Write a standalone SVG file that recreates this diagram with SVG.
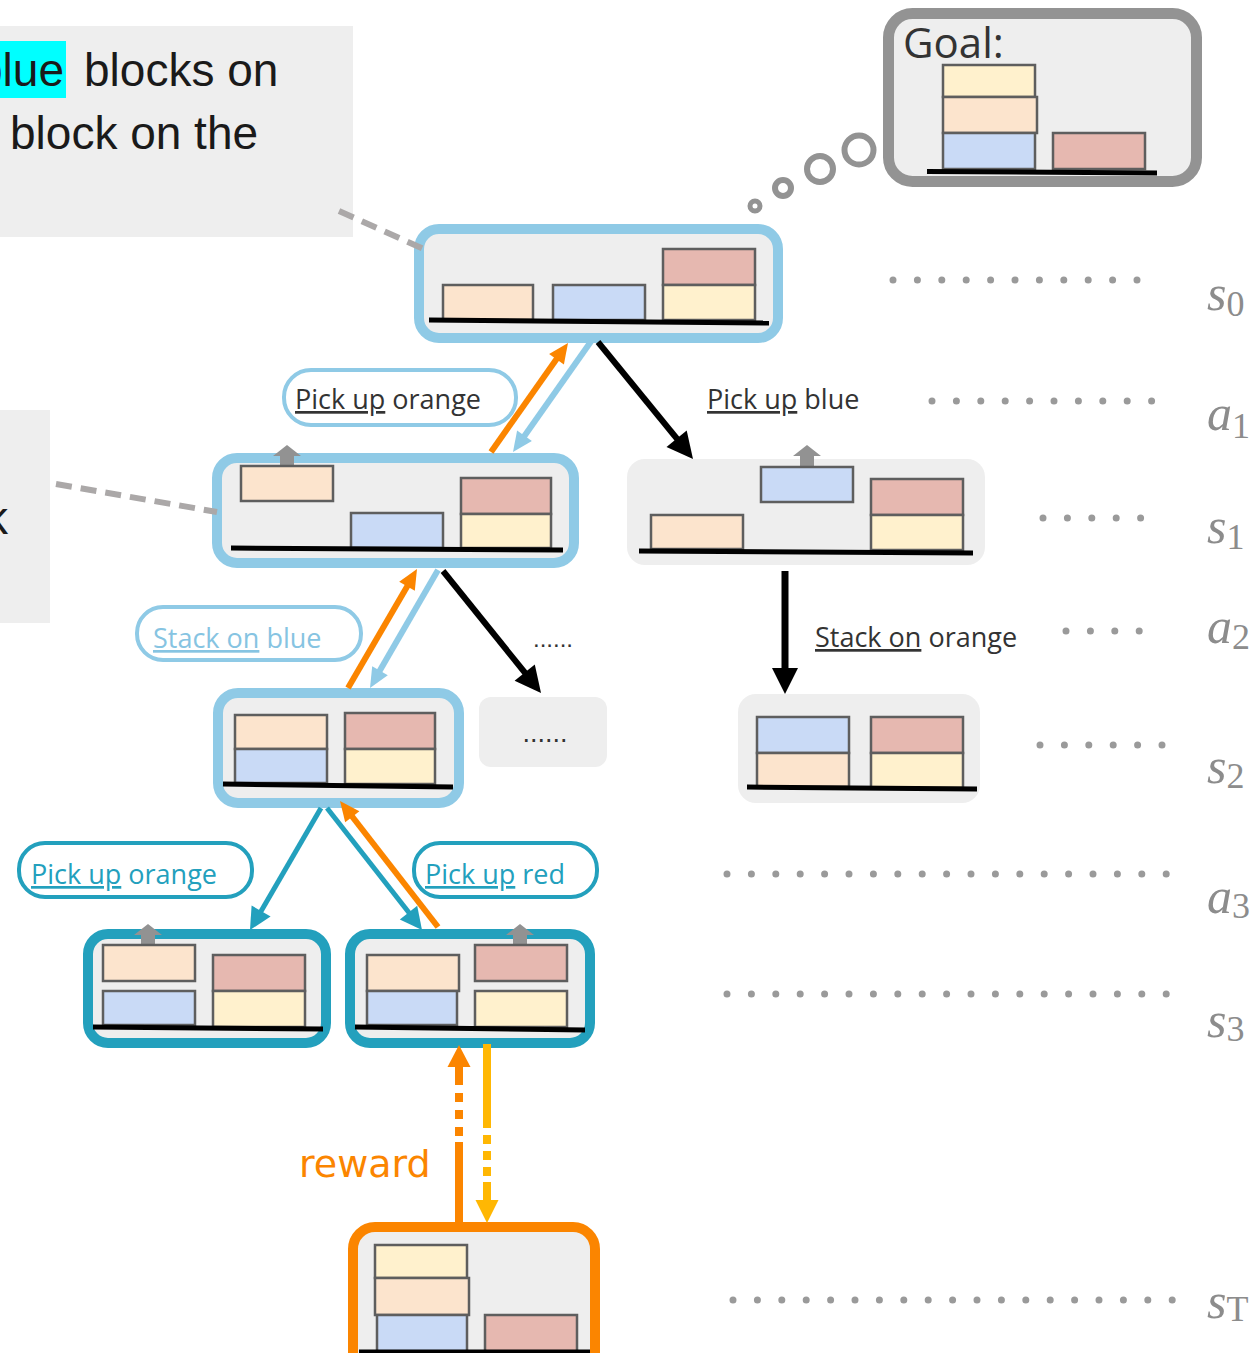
<svg xmlns="http://www.w3.org/2000/svg" width="1258" height="1353" viewBox="0 0 1258 1353">
<defs>
<style>
.nf{fill:#EEEEEE}
.lb{fill:#EEEEEE;stroke:#8FCAE6;stroke-width:10}
.tl{fill:#EEEEEE;stroke:#23A0BD;stroke-width:10}
.or{fill:#EEEEEE;stroke:#FB8500;stroke-width:10}
.bk{stroke:#5E5E5E;stroke-width:2.5}
.pe{fill:#FCE4CD}
.bl{fill:#C9DAF6}
.rd{fill:#E6B8B0}
.ye{fill:#FFF1CD}
.gr{stroke:#000;stroke-width:5}
.up{fill:#929292}
.lbl{font-family:"Open Sans",sans-serif;font-size:27px}
.dk{fill:#333333}
.lbt{fill:#86C4E2}
.tlt{fill:#23A0BD}
.ebox{fill:#FFFFFF;stroke-width:4}
.m{font-family:"Liberation Serif",serif;font-style:italic;font-size:50px;fill:#8C8C8C}
.sub{font-style:normal;font-size:36px}
.dots{stroke:#9A9A9A;stroke-width:7;stroke-linecap:round;stroke-dasharray:0 24.4;fill:none}
.big{font-family:"Liberation Sans",sans-serif;font-size:46px;fill:#1A1A1A}
.dash{stroke:#ABA8A8;stroke-width:6;stroke-dasharray:16 9;fill:none}
.bub{fill:none;stroke:#939393}
</style>
<path id="uparrow" d="M0,0 L14,11 L7,11 L7,22 L-7,22 L-7,11 L-14,11 Z"/>
</defs>
<rect width="1258" height="1353" fill="#FFFFFF"/>

<g id="instruction">
<rect x="0" y="26" width="353" height="211" class="nf"/>
<rect x="0" y="41" width="66" height="57" fill="#00FFFF"/>
<text x="64" y="86" class="big" text-anchor="end">blue</text>
<text x="84" y="86" class="big">blocks on</text>
<text x="10" y="149" class="big">block on the</text>
</g>
<g id="side-panel">
<rect x="0" y="410" width="50" height="213" class="nf"/>
<text x="8" y="534" class="big" text-anchor="end">k</text>
</g>

<g id="goal">
<circle cx="755" cy="206" r="5" class="bub" stroke-width="5"/>
<circle cx="783" cy="188" r="8" class="bub" stroke-width="6"/>
<circle cx="820" cy="169" r="13" class="bub" stroke-width="6"/>
<circle cx="859" cy="150" r="14.5" class="bub" stroke-width="6"/>
<rect x="888.5" y="13.5" width="308" height="168" rx="24" fill="#EEEEEE" stroke="#939393" stroke-width="11"/>
<text x="903" y="58" font-family="'Open Sans',sans-serif" font-size="42" fill="#333333">Goal:</text>
<rect x="943" y="65" width="92" height="32" class="bk ye"/>
<rect x="943" y="97" width="94" height="36" class="bk pe"/>
<rect x="943" y="133" width="92" height="36" class="bk bl"/>
<rect x="1053" y="133" width="92" height="36" class="bk rd"/>
<line x1="927" y1="171.5" x2="1157" y2="173" class="gr"/>
</g>

<g id="s0">
<rect x="419" y="229" width="359" height="109" rx="20" class="lb"/>
<rect x="443" y="285" width="90" height="35" class="bk pe"/>
<rect x="553" y="285" width="92" height="35" class="bk bl"/>
<rect x="663" y="249" width="92" height="36" class="bk rd"/>
<rect x="663" y="285" width="92" height="35" class="bk ye"/>
<line x1="429" y1="320" x2="769" y2="323" class="gr"/>
</g>

<g id="s1-left">
<rect x="217" y="458" width="357" height="105" rx="20" class="lb"/>
<use href="#uparrow" x="287" y="445" class="up"/>
<rect x="241" y="466" width="92" height="35" class="bk pe"/>
<rect x="351" y="513" width="92" height="35" class="bk bl"/>
<rect x="461" y="478" width="90" height="36" class="bk rd"/>
<rect x="461" y="514" width="90" height="34" class="bk ye"/>
<line x1="231" y1="548" x2="563" y2="550" class="gr"/>
</g>

<g id="s1-right">
<rect x="627" y="459" width="358" height="106" rx="18" class="nf"/>
<use href="#uparrow" x="807" y="445" class="up"/>
<rect x="651" y="515" width="92" height="34" class="bk pe"/>
<rect x="761" y="467" width="92" height="35" class="bk bl"/>
<rect x="871" y="479" width="92" height="36" class="bk rd"/>
<rect x="871" y="515" width="92" height="35" class="bk ye"/>
<line x1="639" y1="551" x2="973" y2="553" class="gr"/>
</g>

<g id="s2-left">
<rect x="218" y="693" width="241" height="110" rx="20" class="lb"/>
<rect x="235" y="715" width="92" height="34" class="bk pe"/>
<rect x="235" y="749" width="92" height="34" class="bk bl"/>
<rect x="345" y="713" width="90" height="36" class="bk rd"/>
<rect x="345" y="749" width="90" height="35" class="bk ye"/>
<line x1="223" y1="784" x2="453" y2="787" class="gr"/>
</g>

<g id="s2-more">
<rect x="479" y="697" width="128" height="70" rx="12" class="nf"/>
<text x="545" y="742" text-anchor="middle" font-family="'Liberation Sans',sans-serif" font-size="27" fill="#333333">......</text>
</g>

<g id="s2-right">
<rect x="738" y="694" width="242" height="109" rx="18" class="nf"/>
<rect x="757" y="717" width="92" height="36" class="bk bl"/>
<rect x="757" y="753" width="92" height="34" class="bk pe"/>
<rect x="871" y="717" width="92" height="36" class="bk rd"/>
<rect x="871" y="753" width="92" height="35" class="bk ye"/>
<line x1="747" y1="787" x2="977" y2="789" class="gr"/>
</g>

<g id="s3-left">
<rect x="88" y="934" width="238" height="109" rx="20" class="tl"/>
<use href="#uparrow" x="148" y="924" class="up"/>
<rect x="103" y="945" width="92" height="36" class="bk pe"/>
<rect x="103" y="991" width="92" height="34" class="bk bl"/>
<rect x="213" y="955" width="92" height="36" class="bk rd"/>
<rect x="213" y="991" width="92" height="36" class="bk ye"/>
<line x1="93" y1="1027" x2="323" y2="1029" class="gr"/>
</g>

<g id="s3-right">
<rect x="350" y="934" width="240" height="109" rx="20" class="tl"/>
<use href="#uparrow" x="520" y="924" class="up"/>
<rect x="367" y="955" width="92" height="36" class="bk pe"/>
<rect x="367" y="991" width="90" height="34" class="bk bl"/>
<rect x="475" y="945" width="92" height="36" class="bk rd"/>
<rect x="475" y="991" width="92" height="36" class="bk ye"/>
<line x1="355" y1="1027" x2="585" y2="1030" class="gr"/>
</g>

<g id="sT">
<rect x="353" y="1227" width="242" height="170" rx="22" class="or"/>
<rect x="375" y="1245" width="92" height="33" class="bk ye"/>
<rect x="375" y="1278" width="94" height="37" class="bk pe"/>
<rect x="377" y="1315" width="90" height="40" class="bk bl"/>
<rect x="485" y="1315" width="92" height="40" class="bk rd"/>
<line x1="359" y1="1352" x2="590" y2="1352" class="gr"/>
</g>

<g id="callouts">
<line x1="339" y1="211" x2="426" y2="250" class="dash"/>
<line x1="56" y1="484" x2="217" y2="512" class="dash"/>
</g>

<g id="connectors">
<line x1="491" y1="452" x2="558" y2="357" stroke="#FB8500" stroke-width="6"/>
<polygon points="568,343 563.9,364.5 549.1,354.1" fill="#FB8500"/>
<line x1="592" y1="340" x2="523" y2="438" stroke="#8FCAE6" stroke-width="6"/>
<polygon points="513,452 531.9,440.9 517.1,430.5" fill="#8FCAE6"/>
<line x1="598" y1="342" x2="678" y2="440" stroke="#000" stroke-width="6"/>
<polygon points="693,459 666.5,447 686.7,430.6" fill="#000"/>
<line x1="348" y1="688" x2="408" y2="585" stroke="#FB8500" stroke-width="6"/>
<polygon points="417,569 414.8,590.8 399.2,581.8" fill="#FB8500"/>
<line x1="438" y1="570" x2="379" y2="672" stroke="#8FCAE6" stroke-width="6"/>
<polygon points="370,688 387.8,675.2 372.2,666.2" fill="#8FCAE6"/>
<line x1="443" y1="571" x2="526" y2="674" stroke="#000" stroke-width="6"/>
<polygon points="541,693 514.6,680.8 534.8,664.6" fill="#000"/>
<line x1="785" y1="571" x2="785" y2="670" stroke="#000" stroke-width="7"/>
<polygon points="785,694 772,668 798,668" fill="#000"/>
<line x1="321" y1="808" x2="260" y2="913" stroke="#23A0BD" stroke-width="5"/>
<polygon points="250,930 270.6,916.5 251.6,905.5" fill="#23A0BD"/>
<line x1="327" y1="808" x2="410" y2="914" stroke="#23A0BD" stroke-width="5"/>
<polygon points="422,930 399.8,919.4 417.2,905.8" fill="#23A0BD"/>
<line x1="438" y1="927" x2="351" y2="815" stroke="#FB8500" stroke-width="6"/>
<polygon points="340,801 359.4,811.3 345.2,822.3" fill="#FB8500"/>
<line x1="459" y1="1222" x2="459" y2="1065" stroke="#FB8500" stroke-width="8" stroke-dasharray="80 6 9 8 9 8 9 8 18"/>
<polygon points="459,1045 470.5,1067 447.5,1067" fill="#FB8500"/>
<line x1="487" y1="1044" x2="487" y2="1202" stroke="#FFB703" stroke-width="8" stroke-dasharray="84 7 9 7 9 7 9 6 100"/>
<polygon points="487,1223 475.5,1200 498.5,1200" fill="#FFB703"/>
</g>

<g id="labels">
<rect x="284" y="370" width="232" height="55" rx="27" class="ebox" stroke="#8FCAE6"/>
<text x="295" y="409" class="lbl dk"><tspan text-decoration="underline">Pick up</tspan> orange</text>
<text x="707" y="409" class="lbl dk"><tspan text-decoration="underline">Pick up</tspan> blue</text>
<rect x="137" y="607" width="224" height="53" rx="26" class="ebox" stroke="#8FCAE6"/>
<text x="153" y="648" class="lbl lbt"><tspan text-decoration="underline">Stack on</tspan> blue</text>
<text x="533" y="647" font-family="'Liberation Sans',sans-serif" font-size="24" fill="#333333">......</text>
<text x="815" y="647" class="lbl dk"><tspan text-decoration="underline">Stack on</tspan> orange</text>
<rect x="19" y="843" width="233" height="54" rx="26" class="ebox" stroke="#23A0BD"/>
<text x="31" y="884" class="lbl tlt"><tspan text-decoration="underline">Pick up</tspan> orange</text>
<rect x="414" y="843" width="183" height="54" rx="26" class="ebox" stroke="#23A0BD"/>
<text x="425" y="884" class="lbl tlt"><tspan text-decoration="underline">Pick up</tspan> red</text>
<text x="299" y="1177" font-family="'DejaVu Sans',sans-serif" font-size="38" fill="#FB8500">reward</text>
</g>

<g id="timeline">
<line x1="893" y1="280" x2="1140" y2="280" class="dots"/>
<line x1="932" y1="401" x2="1156" y2="401" class="dots"/>
<line x1="1043" y1="518" x2="1143" y2="518" class="dots"/>
<line x1="1066" y1="631" x2="1140" y2="631" class="dots"/>
<line x1="1040" y1="745" x2="1165" y2="745" class="dots"/>
<line x1="727" y1="874" x2="1170" y2="874" class="dots"/>
<line x1="727" y1="994" x2="1170" y2="994" class="dots"/>
<line x1="733" y1="1300" x2="1176" y2="1300" class="dots"/>
</g>
<g id="time-labels">
<text x="1207" y="310" class="m">s<tspan class="sub" dy="6">0</tspan></text>
<text x="1207" y="430" class="m">a<tspan class="sub" dy="8">1</tspan></text>
<text x="1207" y="543" class="m">s<tspan class="sub" dy="6">1</tspan></text>
<text x="1207" y="643" class="m">a<tspan class="sub" dy="6">2</tspan></text>
<text x="1207" y="783" class="m">s<tspan class="sub" dy="5">2</tspan></text>
<text x="1207" y="913" class="m">a<tspan class="sub" dy="5">3</tspan></text>
<text x="1207" y="1037" class="m">s<tspan class="sub" dy="4">3</tspan></text>
<text x="1207" y="1318" class="m">s<tspan class="sub" font-style="italic" dy="3">T</tspan></text>
</g>
</svg>
